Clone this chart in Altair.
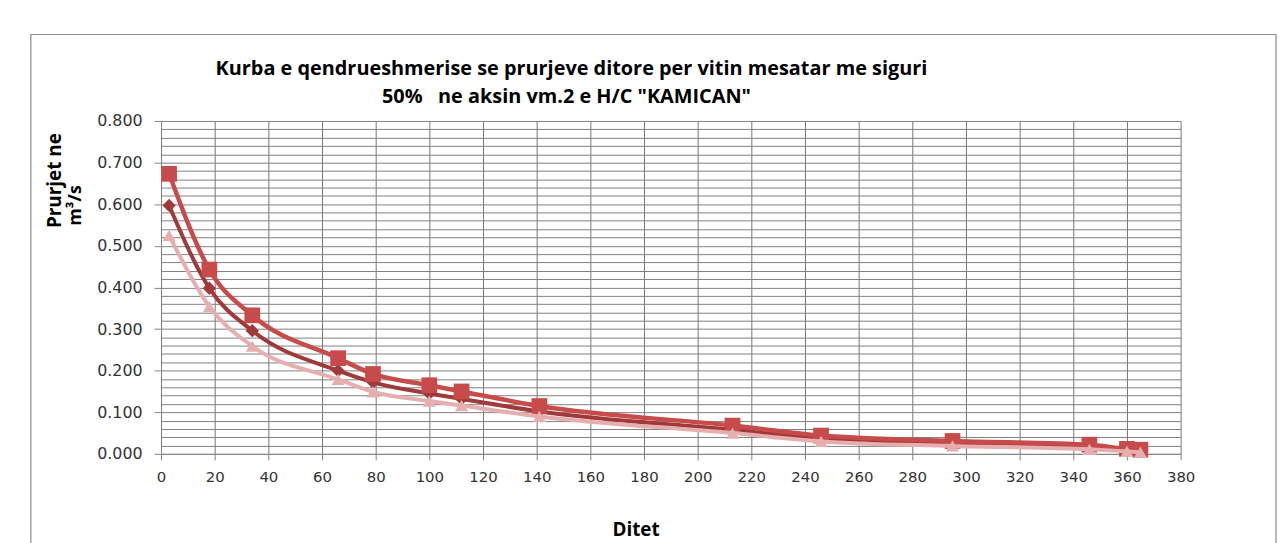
import altair as alt
import pandas as pd

# ---- data ----
DAYS = [3, 18, 34, 66, 79, 100, 112, 141, 213, 246, 295, 346, 360, 365]
Q_SQUARE = [0.673, 0.443, 0.333, 0.230, 0.192, 0.165, 0.150, 0.115, 0.068, 0.044, 0.031, 0.022, 0.012, 0.010]
Q_DIAMOND = [0.597, 0.398, 0.296, 0.200, 0.172, 0.145, 0.132, 0.102, 0.058, 0.037, 0.025, 0.016, 0.009, 0.007]
Q_TRIANGLE = [0.525, 0.354, 0.259, 0.179, 0.149, 0.127, 0.116, 0.090, 0.050, 0.030, 0.019, 0.011, 0.006, 0.004]

SERIES = ["Seria 1", "Seria 2", "Seria 3"]
X_TICKS = list(range(0, 381, 20))
Y_TICKS = [i / 50 for i in range(41)]  # major 0.1 + minor 0.02 grid positions

NBSP = "\u00a0"
TITLE_LINES = [
    "Kurba e qendrueshmerise se prurjeve ditore per vitin mesatar me siguri",
    "50%" + NBSP * 3 + 'ne aksin vm.2 e H/C "KAMICAN"',
]
Y_TITLE = ["Prurjet ne", "m³/s"]
X_TITLE = "Ditet"

W, H = 1026, 335
FONT_T = "Open Sans"
FONT_L = "DejaVu Sans"

x_enc = alt.X(
    "day:Q",
    scale=alt.Scale(domain=[0, 380], nice=False, zero=False),
    axis=alt.Axis(
        values=X_TICKS, title=None, grid=True, gridColor="#777777", gridWidth=1,
        domainColor="#868686", tickColor="#868686", tickSize=6,
        labelFont=FONT_L, labelFontSize=15, labelColor="#333333", labelPadding=10,
        labelOverlap=False, labelFlush=False,
    ),
)
y_enc = alt.Y(
    "q:Q",
    scale=alt.Scale(domain=[0, 0.8], nice=False),
    axis=alt.Axis(
        values=Y_TICKS, title=None, grid=True, gridColor="#808080", gridWidth=1,
        domainColor="#868686", tickColor="#868686", tickSize=7,
        tickOpacity={"condition": {"test": "round(datum.value*100) % 10 == 0", "value": 1}, "value": 0},
        labelExpr="round(datum.value*100) % 10 == 0 ? format(datum.value, '.3f') : ''",
        labelFont=FONT_L, labelFontSize=16, labelColor="#333333", labelPadding=12,
        labelOverlap=False, labelFlush=False,
    ),
)


def series_layers(values, name, color, shape, size, width):
    df = pd.DataFrame({"day": DAYS, "q": values, "s": name})
    base = alt.Chart(df).encode(x=x_enc, y=y_enc)
    line = base.mark_line(color=color, strokeWidth=width, interpolate="monotone")
    pts = base.mark_point(shape=shape, size=size, filled=True, color=color, opacity=1)
    return [line, pts]


layers = []
layers += series_layers(Q_DIAMOND, SERIES[0], "#a0393a", "diamond", 180, 4)
layers += series_layers(Q_SQUARE, SERIES[1], "#c84b4b", "square", 250, 4.5)
layers += series_layers(Q_TRIANGLE, SERIES[2], "#e6aeae", "triangle-up", 170, 4)


def text_layer(txt, px, py, size, angle=0):
    return alt.Chart(pd.DataFrame({"t": [txt]})).mark_text(
        font=FONT_T, fontSize=size, fontWeight="bold", color="#000000",
        align="center", baseline="middle", angle=angle,
    ).encode(text="t:N", x=alt.value(px), y=alt.value(py))


# positions relative to the plot area's top-left corner
layers.append(text_layer(TITLE_LINES[0], 413, -52, 20))
layers.append(text_layer(TITLE_LINES[1], 408, -24, 20))
layers.append(text_layer(Y_TITLE[0], -107, 60, 19, angle=270))
layers.append(text_layer(Y_TITLE[1], -86, 85, 18, angle=270))
layers.append(text_layer(X_TITLE, 478, 412, 19))

frame = alt.Chart(pd.DataFrame({"a": [0]})).mark_rect(
    fillOpacity=0, stroke="#8c8c8c", strokeWidth=1.2
).encode(x=alt.value(-131), x2=alt.value(1122), y=alt.value(-87), y2=alt.value(460))
layers.insert(0, frame)

chart = alt.layer(*layers).properties(
    width=W, height=H,
    autosize=alt.AutoSizeParams(type="none"),
    padding={"left": 154, "top": 112, "right": 99, "bottom": 88},
    background="white",
).configure_view(stroke=None)

chart.save("out.html", embed_options={"renderer": "svg", "actions": False})
